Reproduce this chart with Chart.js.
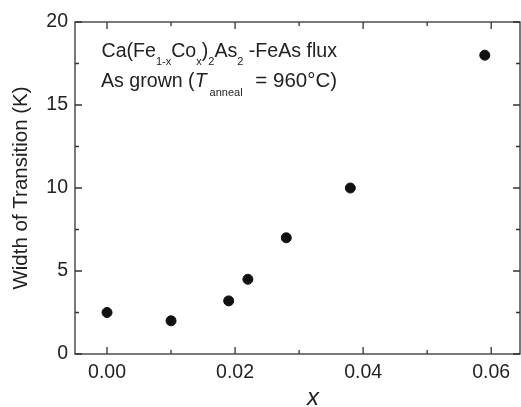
<!DOCTYPE html>
<html><head><meta charset="utf-8">
<script src="https://cdn.jsdelivr.net/npm/chart.js@4/dist/chart.umd.min.js"></script>
<style>html,body{margin:0;padding:0;background:#fff}#wrap{width:521px;height:407px}</style>
</head><body><div id="wrap"><canvas id="c" width="521" height="407"></canvas></div>
<script>
const xValues = [0.000, 0.010, 0.019, 0.022, 0.028, 0.038, 0.059];
const widthValues = [2.5, 2.0, 3.2, 4.5, 7.0, 10.0, 18.0];
const xTicks = [0.00, 0.02, 0.04, 0.06];
const xMinorTicks = [0.01, 0.03, 0.05];
const yTicks = [0, 5, 10, 15, 20];
const yMinorTicks = [2.5, 7.5, 12.5, 17.5];
const xTitle = 'x';
const yTitle = 'Width of Transition (K)';

const AX = '#333';
const TXT = '#222';
const FONT = '"Liberation Sans", Arial, sans-serif';

const framePlugin = {
  id: 'frame',
  afterDraw(chart) {
    const {ctx, chartArea: a, scales: {x, y}} = chart;
    ctx.save();
    ctx.strokeStyle = AX; ctx.lineWidth = 1.3;
    ctx.strokeRect(a.left, a.top, a.right - a.left, a.bottom - a.top);
    const tick = (v, len, isX) => {
      if (isX) {
        const px = x.getPixelForValue(v);
        ctx.beginPath(); ctx.moveTo(px, a.bottom); ctx.lineTo(px, a.bottom - len);
        ctx.moveTo(px, a.top); ctx.lineTo(px, a.top + len); ctx.stroke();
      } else {
        const py = y.getPixelForValue(v);
        ctx.beginPath(); ctx.moveTo(a.left, py); ctx.lineTo(a.left + len, py);
        ctx.moveTo(a.right, py); ctx.lineTo(a.right - len, py); ctx.stroke();
      }
    };
    xTicks.forEach(v => tick(v, 7, true));
    xMinorTicks.forEach(v => tick(v, 4, true));
    yTicks.forEach(v => tick(v, 7, false));
    yMinorTicks.forEach(v => tick(v, 4, false));

    ctx.fillStyle = TXT;
    ctx.textBaseline = 'alphabetic';
    ctx.textAlign = 'left';
    const big = '19.6px ' + FONT, small = '11px ' + FONT;
    const run = (parts, x0, y0) => {
      let cx = x0;
      parts.forEach(p => {
        ctx.font = p.f;
        ctx.fillText(p.t, cx, y0 + (p.dy || 0));
        cx += ctx.measureText(p.t).width + (p.gap || 0);
      });
    };
    run([
      {t: 'Ca(Fe', f: big}, {t: '1-x', f: small, dy: 8},
      {t: 'Co', f: big}, {t: 'x', f: small, dy: 8},
      {t: ')', f: big}, {t: '2', f: small, dy: 8},
      {t: 'As', f: big}, {t: '2', f: small, dy: 8},
      {t: ' -FeAs flux', f: big}
    ], 101.5, 57);
    run([
      {t: 'As grown (', f: big}, {t: 'T', f: 'italic 19.6px ' + FONT, gap: 3},
      {t: 'anneal', f: small, dy: 9.5, gap: 7},
      {t: ' = 960°C)', f: '20.5px ' + FONT}
    ], 101, 86.5);

    // x axis title
    ctx.font = 'italic 24px ' + FONT;
    ctx.textAlign = 'center';
    ctx.fillText(xTitle, 313, 405);
    ctx.restore();
  }
};

new Chart(document.getElementById('c'), {
  type: 'scatter',
  data: {
    datasets: [{
      data: xValues.map((v, i) => ({x: v, y: widthValues[i]})),
      backgroundColor: '#111', borderColor: '#111',
      pointRadius: 5, pointHoverRadius: 5
    }]
  },
  options: {
    responsive: false, animation: false,
    layout: {autoPadding: false, padding: {top: 22, right: 1, left: 0, bottom: 0}},
    plugins: {legend: {display: false}, tooltip: {enabled: false}},
    scales: {
      x: {
        type: 'linear', min: -0.005, max: 0.0645,
        afterBuildTicks: s => { s.ticks = xTicks.map(v => ({value: v})); },
        afterFit: s => { s.height = 53; s.paddingLeft = 0; s.paddingRight = 0; },
        grid: {display: false, drawTicks: false},
        border: {display: false},
        ticks: {padding: 7, color: TXT, font: {family: FONT, size: 19.5},
          callback: v => Number(v).toFixed(2)},
        title: {display: false, text: xTitle}
      },
      y: {
        type: 'linear', min: 0, max: 20,
        afterBuildTicks: s => { s.ticks = yTicks.map(v => ({value: v})); },
        afterFit: s => { s.width = 75; s.paddingTop = 0; s.paddingBottom = 0; },
        grid: {display: false, drawTicks: false},
        border: {display: false},
        ticks: {padding: 7, color: TXT, font: {family: FONT, size: 19.5}},
        title: {display: true, text: yTitle, color: TXT, padding: {top: 9, bottom: 0},
          font: {family: FONT, size: 20.5}}
      }
    }
  },
  plugins: [framePlugin]
});
</script></body></html>
